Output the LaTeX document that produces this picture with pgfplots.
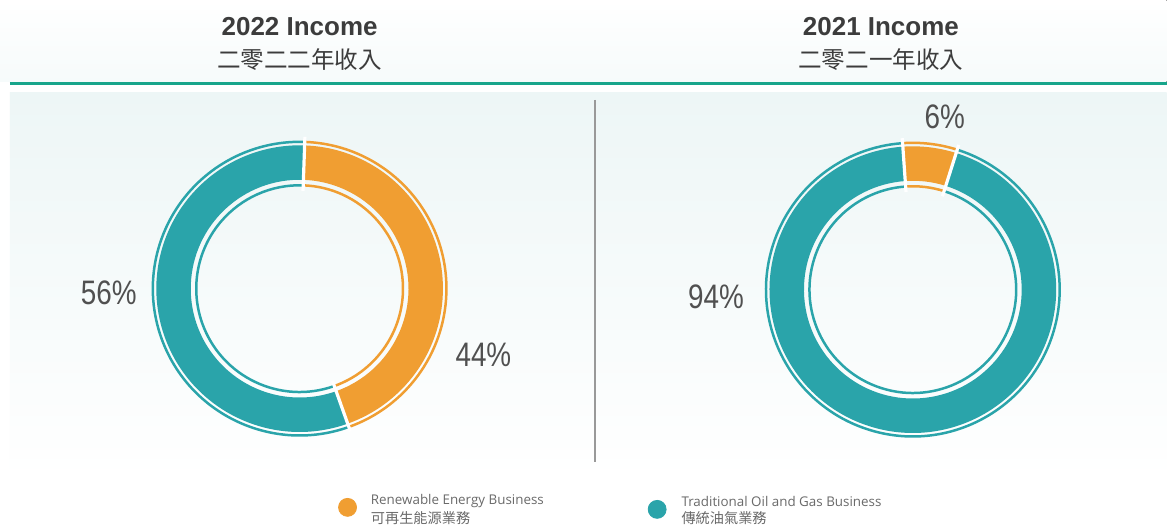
\documentclass[border=0pt]{standalone}
\usepackage{fontspec}
\setmainfont{Open Sans}
\newfontfamily\cjk{Noto Sans CJK TC}
\newfontfamily\headfont{Liberation Sans}
\newfontfamily\pctfont{Liberation Sans}[FakeStretch=0.82]
\usepackage{pgfplots}
\pgfplotsset{compat=1.18}
\usetikzlibrary{calc}
\definecolor{renew}{HTML}{F09E32}
\definecolor{oilgas}{HTML}{2AA4AA}
\definecolor{rulegreen}{HTML}{17A58B}
\definecolor{txt}{HTML}{3C3C3C}
\definecolor{pct}{HTML}{505050}
\definecolor{leg}{HTML}{6A6A6A}
\definecolor{bgtint}{HTML}{EDF6F6}

% ring radii (1 px of the reference = 0.5bp)
\def\Rthin{73.5bp}
\def\Rout{71.75bp}
\def\Rin{54.5bp}
\def\Rthinin{51.75bp}

% one segment: cx, cy, from angle, to angle, colour
\newcommand{\seg}[5]{%
  \fill[#5] ($(axis cs:#1,#2)+({#3}:\Rout)$) arc[start angle={#3}, end angle={#4}, radius=\Rout]
    -- ($(axis cs:#1,#2)+({#4}:\Rin)$) arc[start angle={#4}, end angle={#3}, radius=\Rin] -- cycle;
  \draw[#5, line width=1.25bp] ($(axis cs:#1,#2)+({#3}:\Rthin)$) arc[start angle={#3}, end angle={#4}, radius=\Rthin];
  \draw[#5, line width=1.25bp] ($(axis cs:#1,#2)+({#3}:\Rthinin)$) arc[start angle={#3}, end angle={#4}, radius=\Rthinin];
}
\newcommand{\gap}[3]{%
  \draw[white, line width=1.6bp] ($(axis cs:#1,#2)+({#3}:49bp)$) -- ($(axis cs:#1,#2)+({#3}:76bp)$);
}
% donut: cx, cy, start angle, renewable share (%)
\newcommand{\donut}[4]{%
  \seg{#1}{#2}{#3}{#3-3.6*#4}{renew}
  \seg{#1}{#2}{#3-3.6*#4}{#3-360}{oilgas}
  \gap{#1}{#2}{#3}
  \gap{#1}{#2}{#3-3.6*#4}
}

\begin{document}
\begin{tikzpicture}
\begin{axis}[
    x=0.5bp, y=0.5bp,
    xmin=0, xmax=1168, ymin=0, ymax=525,
    y dir=reverse,
    hide axis, clip=false,
]
% background
\fill[white] (axis cs:0,0) rectangle (axis cs:1168,525);
\fill[top color=bgtint, bottom color=white] (axis cs:10,93) rectangle (axis cs:1168,480);
\fill[top color=white, bottom color=bgtint!50] (axis cs:0,0) rectangle (axis cs:1168,82);

% titles
\node[font=\headfont\bfseries\fontsize{13bp}{15bp}\selectfont, text=txt] at (axis cs:300,27) {2022 Income};
\node[font=\cjk\fontsize{11.8bp}{14bp}\selectfont, text=txt] at (axis cs:300,60) {二零二二年收入};
\node[font=\headfont\bfseries\fontsize{13bp}{15bp}\selectfont, text=txt] at (axis cs:882,27) {2021 Income};
\node[font=\cjk\fontsize{11.8bp}{14bp}\selectfont, text=txt] at (axis cs:882,60) {二零二一年收入};
\draw[rulegreen, line width=1.5bp] (axis cs:10,84) -- (axis cs:1168,84);
\draw[black!40, line width=1bp] (axis cs:596,100) -- (axis cs:596,463);

% donuts: renewable share 44% (2022), 6% (2021)
\donut{300}{289}{88}{44}
\donut{914}{290}{94}{6}

% value labels
\node[font=\pctfont\fontsize{17bp}{19bp}\selectfont, text=pct] at (axis cs:109,293) {56\%};
\node[font=\pctfont\fontsize{17bp}{19bp}\selectfont, text=pct] at (axis cs:484,355) {44\%};
\node[font=\pctfont\fontsize{17bp}{19bp}\selectfont, text=pct] at (axis cs:946,117) {6\%};
\node[font=\pctfont\fontsize{17bp}{19bp}\selectfont, text=pct] at (axis cs:717,297) {94\%};

% legend
\addplot[only marks, mark=*, mark size=4.5bp, color=renew] coordinates {(348,508)};
\addplot[only marks, mark=*, mark size=4.5bp, color=oilgas] coordinates {(658,510)};
\node[anchor=west, inner sep=0pt, font=\fontsize{6.7bp}{8bp}\selectfont, text=leg] at (axis cs:371,502) {Renewable Energy Business};
\node[anchor=west, inner sep=0pt, font=\cjk\fontsize{7.1bp}{8bp}\selectfont, text=leg] at (axis cs:371,519) {可再生能源業務};
\node[anchor=west, inner sep=0pt, font=\fontsize{6.7bp}{8bp}\selectfont, text=leg] at (axis cs:682,502) {Traditional Oil and Gas Business};
\node[anchor=west, inner sep=0pt, font=\cjk\fontsize{7.1bp}{8bp}\selectfont, text=leg] at (axis cs:682,519) {傳統油氣業務};
\end{axis}
\end{tikzpicture}
\end{document}
